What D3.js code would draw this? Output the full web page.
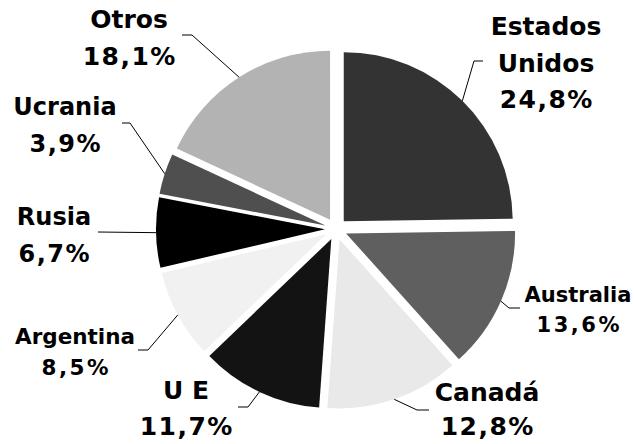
<!DOCTYPE html>
<html>
<head>
<meta charset="utf-8">
<script src="https://cdn.jsdelivr.net/npm/d3@7"></script>
<style>
  body { margin: 0; background: #fff; }
  text { font-family: "DejaVu Sans", Verdana, sans-serif; font-weight: bold; fill: #000; }
</style>
</head>
<body>
<div id="chart"></div>
<script>
// data
const countries = ["Estados Unidos", "Australia", "Canadá", "U E", "Argentina", "Rusia", "Ucrania", "Otros"];
const shares = [24.8, 13.6, 12.8, 11.7, 8.5, 6.7, 3.9, 18.1];

// how each country name is broken over lines
const nameLines = [["Estados", "Unidos"], ["Australia"], ["Canadá"], ["U E"], ["Argentina"], ["Rusia"], ["Ucrania"], ["Otros"]];

const width = 634, height = 444;
const cx = 336, cy = 229, radius = 169, explode = 11;

const fills = ["#333333", "#5f5f5f", "#e9e9e9", "#131313", "#f1f1f1", "#000000", "#4f4f4f", "#b3b3b3"];

// label placement: centre x, first baseline, line step, font size, spacing of the % line, leader elbow and end
const labelLayout = [
  {x: 546, y: 35, step: 36.5, size: 25, sp: 1.5, elbow: [474, 61], end: [483, 61]},
  {x: 578, y: 302, step: 30, size: 21, sp: 2.5, elbow: [509, 308], end: [520, 308]},
  {x: 487, y: 401, step: 34, size: 25, sp: 1.5, elbow: [417, 410], end: [429, 410]},
  {x: 186, y: 399, step: 36, size: 25, sp: 1.5, elbow: [248, 407], end: [238, 407]},
  {x: 75, y: 344, step: 31, size: 21.5, sp: 2.5, elbow: [148, 350], end: [138, 350]},
  {x: 54, y: 225, step: 37, size: 24, sp: 1.5, elbow: [98, 232], end: [98, 232]},
  {x: 65, y: 115, step: 37, size: 24, sp: 1.5, elbow: [130, 123], end: [122, 123]},
  {x: 129, y: 28, step: 37, size: 25, sp: 1.5, elbow: [192, 35], end: [182, 35]}
];

const locale = d3.formatLocale({decimal: ",", thousands: ".", grouping: [3], currency: ["", "€"]});
const fmt = locale.format(".1f");

const svg = d3.select("#chart")
  .append("svg")
  .attr("width", width)
  .attr("height", height);

const colour = d3.scaleOrdinal()
  .domain(countries)
  .range(fills);

const pie = d3.pie()
  .value(d => d.value)
  .sort(null);

const rows = countries.map((c, i) => ({label: c, value: shares[i], idx: i}));
const arcs = pie(rows);

const arc = d3.arc()
  .innerRadius(0)
  .outerRadius(radius);

function offset(d) {
  const a = (d.startAngle + d.endAngle) / 2;
  return [cx + explode * Math.sin(a), cy - explode * Math.cos(a)];
}

const g = svg.append("g");

g.selectAll("path")
  .data(arcs)
  .enter()
  .append("path")
  .attr("transform", d => "translate(" + offset(d) + ")")
  .attr("d", arc)
  .attr("fill", d => colour(d.data.label));

// leader lines, starting on the rim at the middle of each slice
g.selectAll("polyline")
  .data(arcs)
  .enter()
  .append("polyline")
  .attr("points", d => {
    const o = offset(d);
    const a = (d.startAngle + d.endAngle) / 2;
    const rim = [o[0] + radius * Math.sin(a), o[1] - radius * Math.cos(a)];
    const L = labelLayout[d.data.idx];
    return [rim, L.elbow, L.end].map(p => p.join(",")).join(" ");
  })
  .attr("fill", "none")
  .attr("stroke", "#000")
  .attr("stroke-width", 1);

const labels = g.selectAll("text.lab")
  .data(arcs)
  .enter()
  .append("text")
  .attr("class", "lab")
  .attr("text-anchor", "middle")
  .attr("font-size", d => labelLayout[d.data.idx].size);

labels.each(function(d) {
  const L = labelLayout[d.data.idx];
  const names = nameLines[d.data.idx];
  const lines = names.concat([fmt(d.data.value) + "%"]);
  d3.select(this).selectAll("tspan")
    .data(lines)
    .enter()
    .append("tspan")
    .attr("x", (t, j) => j === names.length ? L.x + L.sp / 2 : L.x)
    .attr("y", (t, j) => L.y + j * L.step)
    .attr("letter-spacing", (t, j) => j === names.length ? L.sp : 0)
    .text(t => t);
});
</script>
</body>
</html>
